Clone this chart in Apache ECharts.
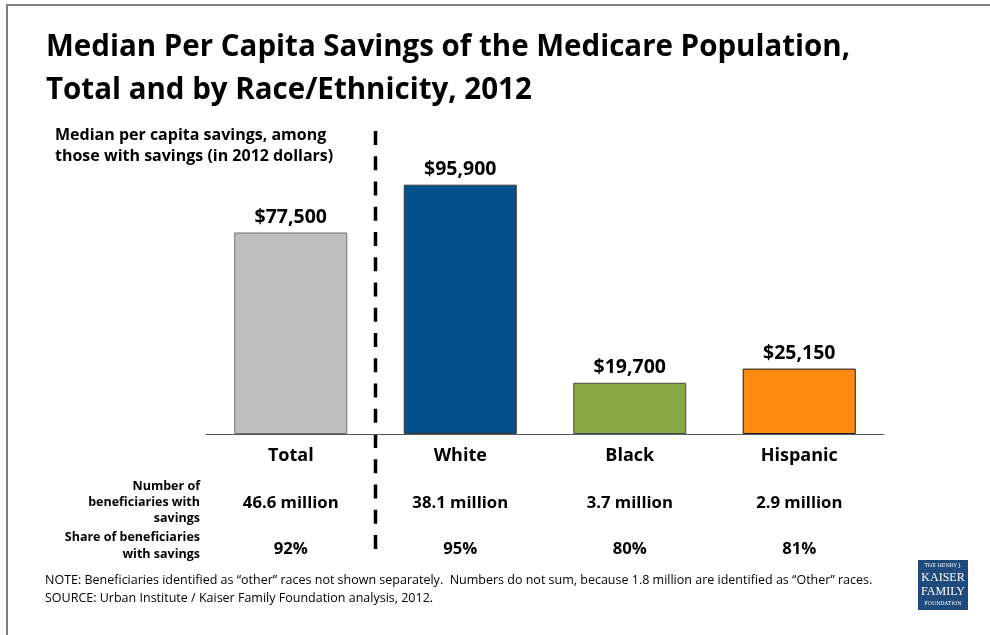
<!DOCTYPE html>
<html>
<head>
<meta charset="utf-8">
<script src="https://cdn.jsdelivr.net/npm/echarts@6/dist/echarts.min.js"></script>
<style>
  html, body { margin: 0; padding: 0; background: #ffffff; }
  #chart { width: 990px; height: 635px; }
</style>
</head>
<body>
<div id="chart"></div>
<script>
// Median per capita savings by group (2012 dollars)
const categories = ['Total', 'White', 'Black', 'Hispanic'];
const savings = [77500, 95900, 19700, 25150];
const barColors = ['#BFBFBF', '#04508A', '#88A845', '#FF8A12'];
const barBorders = ['#6F6F6F', '#3A3A3A', '#4A4A4A', '#1A1A1A'];

// Table rows under the bars
const beneficiaries = ['46.6 million', '38.1 million', '3.7 million', '2.9 million'];
const shares = ['92%', '95%', '80%', '81%'];
const rowHeaderBeneficiaries = ['Number of', 'beneficiaries with', 'savings'];
const rowHeaderShares = ['Share of beneficiaries', 'with savings'];

const titleLines = [
  'Median Per Capita Savings of the Medicare Population,',
  'Total and by Race/Ethnicity, 2012'
];
const subtitleLines = [
  'Median per capita savings, among',
  'those with savings (in 2012 dollars)'
];
const noteLines = [
  'NOTE: Beneficiaries identified as \u201cother\u201d races not shown separately.  Numbers do not sum, because 1.8 million are identified as \u201cOther\u201d races.',
  'SOURCE: Urban Institute / Kaiser Family Foundation analysis, 2012.'
];

const FONT = '"Open Sans", "Noto Sans", sans-serif';

function money(v) {
  return '$' + String(v).replace(/\B(?=(\d{3})+(?!\d))/g, ',');
}

const chart = echarts.init(document.getElementById('chart'), null, { renderer: 'canvas' });

function staticGraphics(dividerX) {
  const g = [];
  // frame
  g.push({
    type: 'polyline', silent: true,
    shape: { points: [[7, 640], [7, 5], [995, 5]] },
    style: { stroke: '#808080', lineWidth: 2, fill: null }
  });
  titleLines.forEach((t, i) => g.push({
    type: 'text', x: 46, y: 48 + i * 43,
    style: { text: t, font: 'bold 29.5px ' + FONT, fill: '#000000', verticalAlign: 'middle' }
  }));
  subtitleLines.forEach((t, i) => g.push({
    type: 'text', x: 55, y: 135 + i * 21,
    style: { text: t, font: 'bold 16px ' + FONT, fill: '#000000', verticalAlign: 'middle' }
  }));
  rowHeaderBeneficiaries.forEach((t, i) => g.push({
    type: 'text', x: 200, y: 486 + i * 16,
    style: { text: t, font: 'bold 12.5px ' + FONT, fill: '#000000', align: 'right', verticalAlign: 'middle' }
  }));
  rowHeaderShares.forEach((t, i) => g.push({
    type: 'text', x: 200, y: 537 + i * 17,
    style: { text: t, font: 'bold 12.5px ' + FONT, fill: '#000000', align: 'right', verticalAlign: 'middle' }
  }));
  noteLines.forEach((t, i) => g.push({
    type: 'text', x: 45, y: 580 + i * 18,
    style: { text: t, font: '12.5px ' + FONT, fill: '#000000', verticalAlign: 'middle' }
  }));
  // foundation logo
  g.push({
    type: 'group', x: 918, y: 560,
    children: [
      { type: 'rect', shape: { x: 0, y: 0, width: 50, height: 50 }, style: { fill: '#1F4A7C' } },
      { type: 'text', x: 25, y: 6, style: { text: 'THE HENRY J.', font: '5px "DejaVu Serif", serif', fill: '#ffffff', align: 'center', verticalAlign: 'middle' } },
      { type: 'text', x: 25, y: 18, style: { text: 'KAISER', font: '12px "Liberation Serif", serif', fill: '#ffffff', align: 'center', verticalAlign: 'middle' } },
      { type: 'text', x: 25, y: 32, style: { text: 'FAMILY', font: '12px "Liberation Serif", serif', fill: '#ffffff', align: 'center', verticalAlign: 'middle' } },
      { type: 'text', x: 25, y: 44, style: { text: 'FOUNDATION', font: '5px "DejaVu Serif", serif', fill: '#ffffff', align: 'center', verticalAlign: 'middle' } }
    ]
  });
  if (dividerX != null) {
    g.push({
      type: 'line', silent: true,
      shape: { x1: dividerX, y1: 131, x2: dividerX, y2: 549 },
      style: { stroke: '#000000', lineWidth: 3.5, lineDash: [14, 11.25] }
    });
  }
  return g;
}

function categoryAxis(labels, margin, fontSize, showLine) {
  return {
    type: 'category', position: 'bottom', data: labels,
    axisLine: { show: showLine, lineStyle: { color: '#595959', width: 1 } },
    axisTick: { show: false },
    splitLine: { show: false },
    axisLabel: { margin: margin, color: '#000000', fontFamily: FONT, fontWeight: 'bold', fontSize: fontSize, interval: 0 }
  };
}

chart.setOption({
  animation: false,
  backgroundColor: '#ffffff',
  grid: { left: 206, right: 106, top: 174, bottom: 201 },
  xAxis: [
    categoryAxis(categories, 13, 18, true),
    categoryAxis(beneficiaries, 61, 16.7, false),
    categoryAxis(shares, 107, 16.7, false)
  ],
  yAxis: { type: 'value', min: 0, max: 100000, show: false, splitLine: { show: false } },
  series: [{
    type: 'bar',
    xAxisIndex: 0,
    barWidth: '66.7%',
    data: savings.map((v, i) => ({
      value: v,
      itemStyle: { color: barColors[i], borderColor: barBorders[i], borderWidth: 1 }
    })),
    label: {
      show: true, position: 'top', distance: 5,
      color: '#000000', fontFamily: FONT, fontWeight: 'bold', fontSize: 19.5,
      formatter: p => money(p.value)
    }
  }],
  graphic: staticGraphics(null)
});

// dashed divider sits between the first and second category
const x0 = chart.convertToPixel({ xAxisIndex: 0 }, 0);
const x1 = chart.convertToPixel({ xAxisIndex: 0 }, 1);
chart.setOption({ graphic: staticGraphics((x0 + x1) / 2) }, { replaceMerge: ['graphic'] });
</script>
</body>
</html>
